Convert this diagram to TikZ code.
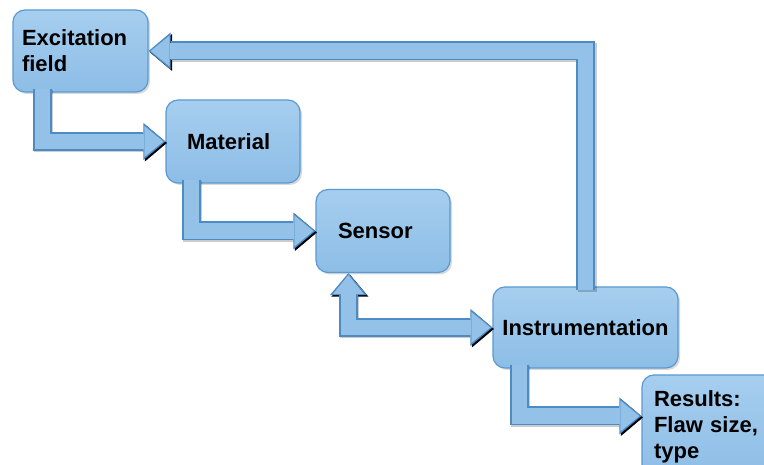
\documentclass[tikz,border=0pt]{standalone}
\usepackage{fontspec}
\setmainfont{Liberation Sans}
\usetikzlibrary{arrows.meta,calc,shadows}
\definecolor{boxtop}{HTML}{A6CEEF}
\definecolor{boxfill}{HTML}{8DBDE6}
\definecolor{boxedge}{HTML}{5A9AD2}
\definecolor{flowfill}{HTML}{93C1E8}
\definecolor{flowedge}{HTML}{4D8BC4}
\tikzset{
  stage/.style={draw=boxedge,line width=1.2pt,rounded corners=12pt,top color=boxtop,bottom color=boxfill,
    align=left,inner sep=0pt,font=\fontsize{22}{26}\selectfont\bfseries,
    drop shadow={shadow xshift=2pt,shadow yshift=-2pt,opacity=0.3}},
  tipin/.style={-{Triangle[width=31pt,length=19pt,line width=0pt]}},
  tipout/.style={-{Triangle[width=37pt,length=22pt,line width=0pt]}},
  flow/.style={line width=15.5pt,draw=flowfill,tipin,shorten >=2pt,
    preaction={draw=black,draw opacity=0.2,line width=19pt,tipout,shorten >=0pt,transform canvas={shift={(1.5pt,-1.5pt)}}},
    preaction={draw=flowedge,line width=19pt,tipout,shorten >=0pt}},
  flowboth/.style={line width=15.5pt,draw=flowfill,{Triangle[width=31pt,length=19pt,line width=0pt]}-{Triangle[width=31pt,length=19pt,line width=0pt]},shorten >=2pt,shorten <=2pt,
    preaction={draw=black,draw opacity=0.2,line width=19pt,{Triangle[width=37pt,length=22pt,line width=0pt]}-{Triangle[width=37pt,length=22pt,line width=0pt]},shorten >=0pt,shorten <=0pt,transform canvas={shift={(1.5pt,-1.5pt)}}},
    preaction={draw=flowedge,line width=19pt,{Triangle[width=37pt,length=22pt,line width=0pt]}-{Triangle[width=37pt,length=22pt,line width=0pt]},shorten >=0pt,shorten <=0pt}}
}
\begin{document}
\begin{tikzpicture}[x=1pt,y=1pt]
\useasboundingbox (0,0) rectangle (764,465);
\node[stage,minimum width=135pt,minimum height=82pt,text width=117pt] (exc) at (80.5,414) {Excitation\\field};
\node[stage,minimum width=134pt,minimum height=83pt,text width=92pt] (mat) at (233,323.5) {Material};
\node[stage,minimum width=134pt,minimum height=83pt,text width=90pt] (sen) at (383,234) {Sensor};
\node[stage,minimum width=185pt,minimum height=81pt] (ins) at (585.5,137.5) {Instrumentation};
\node[stage,minimum width=140pt,minimum height=104pt,text width=116pt] (res) at (712,38) {Results:\\Flaw size,\\type};
\draw[flow] ($(exc.south west)+(30,4)$) |- (mat.west);
\draw[flow] ($(mat.south west)+(26,4)$) |- (sen.west);
\draw[flowboth] (ins.west) -| ($(sen.south west)+(33,0)$);
\draw[flow] ($(ins.north)+(0,-4)$) |- (exc.east);
\draw[flow] ($(ins.south west)+(27,4)$) |- ($(res.west)+(0,11)$);
\end{tikzpicture}
\end{document}
